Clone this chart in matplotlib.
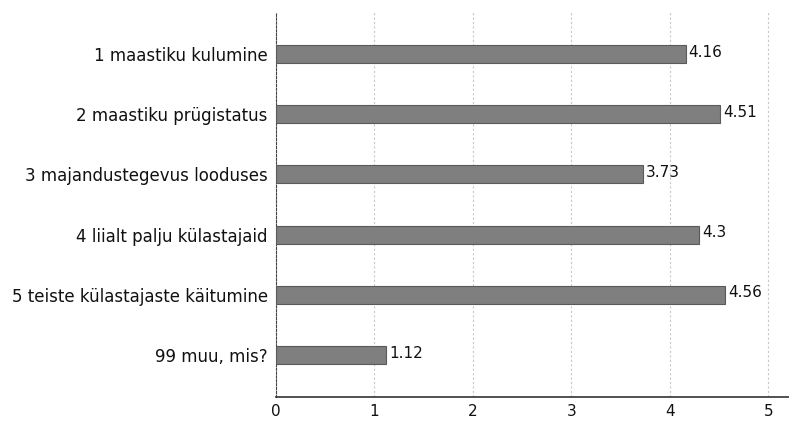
import numpy as np
import matplotlib
matplotlib.use('Agg')
import matplotlib.pyplot as plt

categories = ['1 maastiku kulumine', '2 maastiku prügistatus', '3 majandustegevus looduses',
              '4 liialt palju külastajaid', '5 teiste külastajaste käitumine', '99 muu, mis?']
values = [4.16, 4.51, 3.73, 4.3, 4.56, 1.12]
ticks = [0, 1, 2, 3, 4, 5]

fig = plt.figure(figsize=(7.89, 4.21), dpi=100)
ax = fig.add_axes([0.3498, 0.057, 0.6502, 0.9145])

y = np.arange(len(categories))
ax.barh(y, values, height=0.3, color='#7f7f7f', edgecolor='#5a5a5a', linewidth=0.8, zorder=3)

for yi, v in zip(y, values):
    ax.text(v + 0.03, yi - 0.03, f'{v:g}', va='center', ha='left', fontsize=11, color='#111111')

ax.set_yticks(y)
ax.set_yticklabels(categories, fontsize=12, color='#111111')
ax.set_xticks(ticks)
ax.set_xticklabels([str(t) for t in ticks], fontsize=11, color='#111111')
ax.set_xlim(0, 5.21)
ax.set_ylim(5.7, -0.7)

ax.grid(axis='x', linestyle=(0, (2, 2)), color='#c8c8c8', linewidth=0.8, zorder=0)
ax.spines['top'].set_visible(False)
ax.spines['right'].set_visible(False)
ax.spines['left'].set_linestyle((0, (2, 1.5)))
ax.spines['left'].set_color('#444444')
ax.spines['bottom'].set_color('#333333')
ax.spines['bottom'].set_linewidth(1.2)
ax.tick_params(axis='y', length=0, pad=6)
ax.tick_params(axis='x', length=0, pad=5)

plt.savefig('out.png', dpi=100)
